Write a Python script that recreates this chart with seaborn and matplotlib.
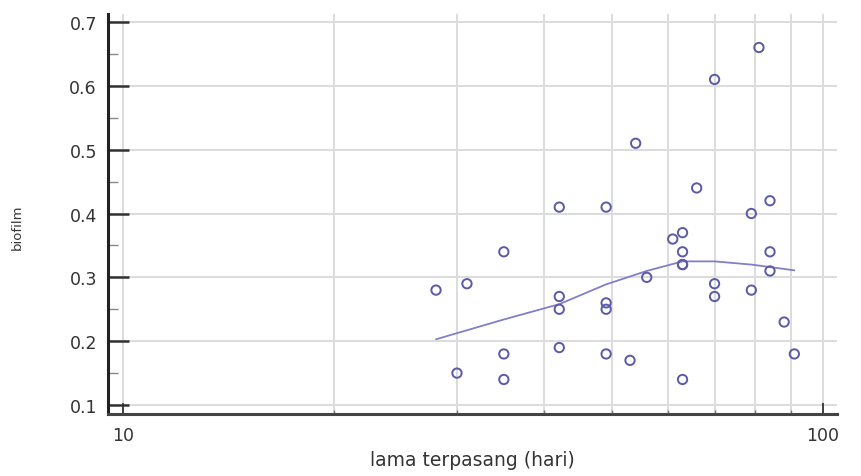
import matplotlib
matplotlib.use("Agg")
import matplotlib.pyplot as plt
import numpy as np
import pandas as pd
import seaborn as sns
from matplotlib.ticker import FixedLocator, NullFormatter

# 측정값: 설치 기간(일)과 biofilm
lama_hari = [28, 30, 31, 35, 35, 35, 42, 42, 42, 42, 49, 49, 49, 49,
             53, 54, 56, 61, 63, 63, 63, 63, 63, 66, 70, 70, 70,
             79, 79, 81, 84, 84, 84, 88, 91]
biofilm = [0.28, 0.15, 0.29, 0.34, 0.18, 0.14, 0.41, 0.27, 0.25, 0.19,
           0.41, 0.26, 0.25, 0.18, 0.17, 0.51, 0.30, 0.36, 0.37, 0.34,
           0.32, 0.32, 0.14, 0.44, 0.61, 0.29, 0.27, 0.40, 0.28, 0.66,
           0.42, 0.34, 0.31, 0.23, 0.18]

# 평활 곡선
fit_x = [28, 35, 42, 49, 56, 63, 70, 79, 91]
fit_y = [0.203, 0.234, 0.258, 0.289, 0.310, 0.325, 0.325, 0.320, 0.311]

y_ticks = [0.1, 0.2, 0.3, 0.4, 0.5, 0.6, 0.7]
x_ticks = [10, 100]
x_minor = [20, 30, 40, 50, 60, 70, 80, 90]

sns.set_theme(style="white")
plt.rcParams["font.family"] = ["DejaVu Sans"]

df = pd.DataFrame({"lama": lama_hari, "biofilm": biofilm})
fit = pd.DataFrame({"lama": fit_x, "biofilm": fit_y})

fig = plt.figure(figsize=(8.61, 4.77), dpi=100)
ax = fig.add_axes([108 / 861, 1 - 415 / 477, (837 - 108) / 861, (415 - 15) / 477])

ax.set_xscale("log")
ax.set_xlim(10 ** (1 - 15 / 700), 10 ** (1 + 714 / 700))
ax.set_ylim(0.1 - 9 / 640, 0.7 + 8 / 640)

# 격자
for v in x_ticks + x_minor:
    ax.axvline(v, color="#dcdcdc", lw=1.4, zorder=0)
for v in y_ticks:
    ax.axhline(v, color="#dcdcdc", lw=1.4, zorder=0)

sns.lineplot(data=fit, x="lama", y="biofilm", ax=ax, color="#8080c8",
             lw=1.3, zorder=2)
sns.scatterplot(data=df, x="lama", y="biofilm", ax=ax, marker="o", s=45,
                facecolor="none", edgecolor="#5a5aa8", linewidth=1.4,
                zorder=3)

ax.xaxis.set_major_locator(FixedLocator(x_ticks))
ax.xaxis.set_minor_locator(FixedLocator(x_minor))
ax.xaxis.set_minor_formatter(NullFormatter())
ax.set_xticklabels(["10", "100"])
ax.yaxis.set_major_locator(FixedLocator(y_ticks))
ax.yaxis.set_minor_locator(FixedLocator([0.15, 0.25, 0.35, 0.45, 0.55, 0.65]))
ax.set_yticklabels([f"{v:.1f}" for v in y_ticks])

ax.tick_params(axis="y", which="major", direction="in", length=15, width=1.8,
               color="#333333", labelsize=12.5, labelcolor="#333333", pad=8,
               left=True)
ax.tick_params(axis="y", which="minor", direction="in", length=7, width=1,
               color="#888888", left=True)
ax.tick_params(axis="x", which="major", direction="in", length=8, width=1.3,
               color="#333333", labelsize=12.5, labelcolor="#333333", pad=9,
               bottom=True)
ax.tick_params(axis="x", which="minor", direction="in", length=3, width=1,
               color="#777777", bottom=True)

for side in ["top", "right"]:
    ax.spines[side].set_visible(False)
ax.spines["left"].set_color("#222222")
ax.spines["left"].set_linewidth(2.2)
ax.spines["bottom"].set_color("#444444")
ax.spines["bottom"].set_linewidth(2.2)

ax.set_xlabel("lama terpasang (hari)", fontsize=13.5, color="#333333",
              labelpad=4)
ax.set_ylabel("biofilm", fontsize=9.5, color="#333333")
ax.yaxis.set_label_coords(-0.115, 0.47)

fig.savefig("out.png", dpi=100)
